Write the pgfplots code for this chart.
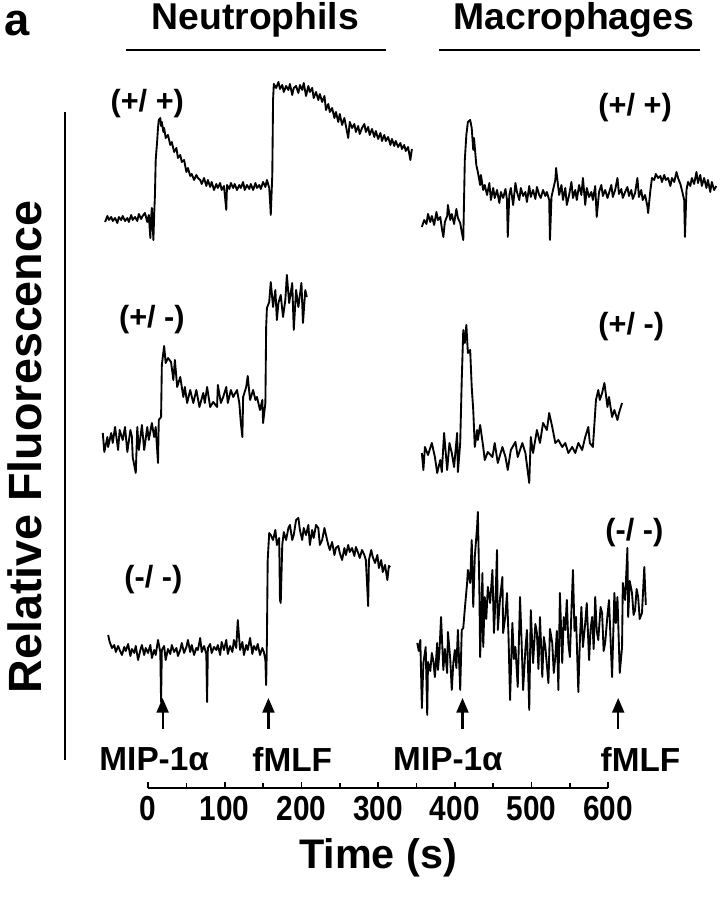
\documentclass[border=0pt]{standalone}
\usepackage{fontspec}
\setmainfont{Liberation Sans}
\newfontfamily\condensed{Liberation Sans}[FakeStretch=0.86]
\usepackage{pgfplots}
\pgfplotsset{compat=1.18}
\usetikzlibrary{arrows.meta}

\newcommand\fs[1]{\bfseries\fontsize{#1}{#1}\selectfont}

\begin{document}
\begin{tikzpicture}[
    tr/.style={black, mark=none, line width=1.4pt, line join=round},
    stim/.style={line width=1.6pt, -{Triangle[length=11pt,width=9pt]}},
]
\begin{axis}[
    at={(0pt,0pt)}, anchor=south west,
    scale only axis, width=540.75pt, height=674.25pt,
    xmin=-193, xmax=747, ymin=0, ymax=899,
    hide axis, clip=false,
]
% Neutrophils (+/+)
\addplot[tr] coordinates {
(-56,677) (-53,683) (-51,679) (-48,682) (-46,678) (-43,681) (-40,676) (-38,682)
(-35,679) (-33,683) (-30,678) (-27,681) (-25,677) (-22,684) (-20,679) (-17,682)
(-14,678) (-12,685) (-9,680) (-7,683) (-4,686) (-1,677) (1,684) (3,661) (4,681)
(5,691) (7,659) (8,684) (9,704) (10,739) (12,759) (13,771) (14,779) (16,781)
(17,773) (18,777) (20,767) (21,771) (23,761) (26,764) (29,754) (31,757) (34,747)
(37,751) (39,741) (42,744) (44,737) (47,739) (50,727) (52,731) (55,723) (57,725)
(60,719) (63,724) (65,721) (68,719) (70,715) (73,721) (76,713) (78,719) (81,712)
(83,717) (86,709) (89,715) (91,711) (94,716) (96,709) (99,713) (102,689) (103,714)
(106,710) (108,716) (111,711) (113,715) (116,709) (119,714) (121,711) (124,717)
(126,709) (129,714) (132,710) (134,715) (137,709) (140,716) (142,711) (145,714)
(147,710) (150,717) (153,712) (155,719) (158,711) (159,699) (160,684) (162,724)
(163,799) (164,815) (167,811) (170,817) (172,810) (175,814) (177,807) (180,813)
(183,809) (185,815) (188,804) (190,811) (193,813) (196,806) (198,814) (201,809)
(203,816) (206,803) (209,813) (211,807) (214,811) (216,801) (219,807) (222,799)
(224,805) (227,797) (230,803) (232,789) (235,795) (237,787) (240,791) (243,781)
(245,787) (248,777) (250,785) (253,774) (256,781) (258,773) (261,761) (263,777)
(266,771) (269,775) (271,767) (274,773) (276,765) (279,771) (282,775) (284,767)
(287,772) (289,764) (292,770) (295,762) (297,768) (300,760) (303,766) (305,758)
(308,764) (310,758) (313,762) (316,754) (318,760) (321,753) (323,758) (326,752)
(329,756) (331,750) (334,754) (336,748) (339,752) (342,739) (344,750)
};
% Macrophages (+/+)
\addplot[tr] coordinates {
(357,672) (360,679) (363,675) (365,685) (368,677) (370,683) (373,674) (376,687)
(378,679) (381,682) (383,671) (385,662) (387,677) (390,683) (391,694) (394,679)
(396,685) (399,675) (402,690) (404,681) (407,676) (409,667) (411,659) (412,699)
(413,739) (415,764) (417,777) (420,779) (422,771) (424,749) (425,761) (428,734)
(430,727) (433,714) (434,724) (437,709) (439,714) (442,704) (445,716) (447,699)
(450,711) (452,701) (455,709) (458,696) (460,707) (463,701) (466,710) (468,699)
(469,662) (471,704) (473,711) (476,694) (479,716) (481,707) (484,699) (486,711)
(489,703) (492,707) (494,697) (497,713) (499,702) (502,709) (505,700) (507,712)
(510,704) (512,701) (515,709) (518,703) (520,707) (523,699) (524,659) (526,702)
(528,709) (531,719) (532,731) (533,724) (536,704) (539,714) (541,699) (544,711)
(546,694) (549,704) (552,717) (554,701) (557,709) (559,699) (562,714) (565,704)
(567,721) (570,694) (572,711) (575,702) (578,707) (580,699) (583,713) (585,682)
(588,707) (591,714) (593,703) (596,709) (599,701) (601,706) (604,714) (606,702)
(609,709) (612,721) (614,705) (617,710) (619,701) (622,707) (625,712) (627,703)
(630,709) (632,700) (635,706) (638,721) (640,702) (643,709) (645,699) (648,704)
(651,693) (652,686) (655,709) (657,721) (660,719) (662,725) (665,721) (668,723)
(670,717) (673,724) (675,719) (678,721) (681,713) (683,721) (686,717) (689,727)
(691,721) (694,715) (696,709) (699,699) (700,662) (702,709) (704,717) (707,713)
(709,721) (712,715) (715,727) (717,716) (720,724) (722,713) (725,721) (728,711)
(730,719) (733,707) (735,717) (738,709) (741,713)
};
% Neutrophils (+/-)
\addplot[tr] coordinates {
(-59,466) (-57,447) (-53,462) (-52,452) (-48,466) (-46,456) (-43,472) (-39,449)
(-37,469) (-33,459) (-30,472) (-27,447) (-23,469) (-21,462) (-20,442) (-16,426)
(-14,472) (-12,449) (-8,474) (-5,449) (-1,472) (1,459) (5,476) (8,462) (10,472)
(13,436) (14,479) (17,482) (18,534) (21,553) (23,536) (26,541) (30,537) (33,519)
(35,539) (38,512) (42,522) (46,502) (48,512) (51,496) (55,509) (59,496) (63,509)
(67,492) (72,506) (74,496) (77,512) (81,492) (85,497) (90,492) (91,514) (95,496)
(98,502) (102,512) (104,496) (108,509) (111,502) (116,509) (119,496) (121,476)
(123,462) (124,502) (128,512) (130,523) (133,499) (137,509) (140,499) (142,502)
(146,489) (149,499) (150,476) (153,496) (154,572) (155,591) (158,597) (160,617)
(163,592) (166,609) (168,579) (170,596) (173,604) (176,582) (179,599) (181,624)
(184,596) (188,616) (190,569) (193,609) (196,592) (200,616) (202,576) (205,609)
(207,602)
};
% Macrophages (+/-)
\addplot[tr] coordinates {
(357,446) (359,429) (361,452) (365,444) (370,456) (374,442) (377,426) (381,439)
(383,427) (386,466) (390,429) (393,456) (396,446) (399,432) (403,466) (404,427)
(407,456) (409,519) (411,569) (413,556) (415,574) (417,546) (420,549) (422,512)
(424,489) (426,452) (429,469) (430,459) (433,474) (437,452) (439,439) (443,447)
(449,442) (452,456) (456,436) (462,452) (466,442) (469,429) (473,449) (479,457)
(482,442) (488,456) (492,446) (497,416) (499,462) (502,446) (507,469) (511,456)
(515,476) (520,469) (523,486) (527,472) (531,456) (535,459) (540,452) (544,456)
(548,446) (553,452) (557,446) (561,456) (566,449) (570,462) (574,472) (576,456)
(580,452) (584,499) (587,509) (589,499) (592,506) (595,516) (599,492) (601,502)
(605,482) (608,489) (612,479) (614,486) (618,496)
};
% Neutrophils (-/-)
\addplot[tr] coordinates {
(-52,264) (-50,257) (-47,251) (-44,254) (-42,247) (-39,253) (-37,249) (-34,244)
(-31,252) (-29,248) (-26,255) (-23,243) (-21,250) (-18,246) (-16,253) (-13,239)
(-10,249) (-8,254) (-5,244) (-3,251) (0,246) (3,254) (5,241) (8,249) (10,244)
(13,259) (16,247) (17,197) (18,249) (21,253) (23,239) (26,250) (29,245) (31,254)
(34,247) (37,251) (39,243) (42,249) (44,256) (47,246) (50,252) (52,259) (55,247)
(57,254) (60,244) (63,251) (65,249) (68,261) (70,247) (73,253) (76,245) (77,197)
(78,251) (81,255) (83,246) (86,252) (89,249) (91,254) (94,244) (96,257) (99,249)
(102,259) (104,245) (107,253) (110,247) (112,259) (115,251) (117,279) (120,249)
(123,257) (125,244) (128,254) (130,249) (133,261) (136,245) (138,253) (141,249)
(143,255) (146,244) (149,251) (151,247) (153,239) (154,214) (155,259) (156,339)
(158,366) (160,364) (163,359) (166,369) (168,354) (171,361) (172,299) (173,296)
(175,354) (177,367) (180,359) (183,371) (185,374) (188,359) (190,364) (193,379)
(196,381) (198,369) (201,359) (203,371) (206,364) (209,374) (211,354) (214,369)
(216,361) (219,374) (222,371) (224,354) (227,359) (230,371) (232,364) (235,354)
(237,349) (240,357) (243,344) (245,351) (248,353) (250,346) (253,339) (256,351)
(258,344) (261,354) (263,347) (266,351) (269,343) (271,352) (274,346) (276,341)
(279,349) (282,344) (284,339) (287,293) (288,339) (291,349) (293,342) (296,336)
(299,344) (301,331) (304,339) (306,327) (309,334) (312,319) (314,333) (316,332)
};
% Macrophages (-/-)
\addplot[tr] coordinates {
(351,256) (353,248) (355,259) (357,191) (359,236) (362,252) (364,184) (365,237)
(368,228) (370,246) (372,238) (374,222) (377,256) (378,229) (380,248) (382,282)
(385,229) (387,250) (390,226) (391,267) (394,240) (396,209) (398,236) (400,249)
(402,231) (404,269) (407,209) (409,269) (411,271) (413,290) (416,316) (417,329)
(420,316) (422,359) (424,292) (426,342) (429,372) (430,387) (432,309) (433,242)
(436,326) (437,252) (439,302) (441,280) (443,312) (446,296) (449,329) (451,266)
(453,300) (455,349) (456,269) (459,301) (462,322) (463,266) (466,284) (468,306)
(470,262) (472,199) (475,276) (477,240) (479,252) (482,212) (485,302) (487,258)
(489,209) (492,250) (494,269) (497,189) (499,289) (502,236) (505,275) (507,266)
(509,230) (511,282) (514,222) (516,262) (518,252) (522,216) (524,270) (527,256)
(529,226) (531,242) (533,268) (535,209) (537,306) (540,236) (542,282) (544,269)
(546,299) (548,256) (550,242) (552,288) (554,329) (556,268) (558,282) (561,207)
(563,258) (565,292) (567,252) (570,276) (572,296) (575,239) (577,270) (579,282)
(581,250) (583,302) (585,268) (587,259) (590,292) (592,286) (594,248) (596,256)
(599,284) (601,299) (603,260) (605,222) (608,306) (610,276) (612,302) (615,226)
(618,252) (619,316) (622,299) (625,351) (626,282) (628,318) (631,306) (633,284)
(635,289) (637,310) (639,302) (641,280) (644,286) (647,332) (649,294)
};

% panel letter, headings and their rules
\node at (axis cs:-171,875) {\fs{34}a};
\node at (axis cs:140,879) {\fs{28}Neutrophils};
\node at (axis cs:555,879) {\fs{28}Macrophages};
\draw[line width=2.2pt] (axis cs:-29,849) -- (axis cs:310,849);
\draw[line width=2.2pt] (axis cs:379,849) -- (axis cs:720,849);

% y description
\draw[line width=1.6pt] (axis cs:-108,787) -- (axis cs:-108,139);
\node[rotate=90] at (axis cs:-160,452) {\fs{35}Relative Fluorescence};

% genotype labels
\node at (axis cs:-1,795) {\fs{23}(+/ +)};
\node at (axis cs:635,791) {\fs{23}(+/ +)};
\node at (axis cs:5,579) {\fs{23}(+/ -)};
\node at (axis cs:630,572) {\fs{23}(+/ -)};
\node at (axis cs:7,319) {\fs{23}(-/ -)};
\node at (axis cs:634,366) {\fs{23}(-/ -)};

% stimulus arrows
\draw[stim] (axis cs:19,170) -- (axis cs:19,201);
\draw[stim] (axis cs:157,170) -- (axis cs:157,201);
\draw[stim] (axis cs:410,170) -- (axis cs:410,201);
\draw[stim] (axis cs:613,170) -- (axis cs:613,201);
\node at (axis cs:8,140) {\fs{25}MIP-1α};
\node at (axis cs:188,140) {\fs{25}fMLF};
\node at (axis cs:391,140) {\fs{25}MIP-1α};
\node at (axis cs:642,140) {\fs{25}fMLF};
\end{axis}

% time scale bar
\begin{axis}[
    at={(111pt,83.25pt)}, anchor=south west,
    scale only axis, width=345.15pt, height=10pt,
    xmin=0, xmax=600, ymin=0, ymax=1,
    axis x line=bottom, axis y line=none,
    axis line style={line width=1.3pt, -},
    xtick={0,100,...,600}, minor xtick={50,150,...,550},
    tick align=inside, major tick length=4.5pt, minor tick length=3.5pt,
    every tick/.style={black, line width=1.2pt},
    /pgf/number format/assume math mode=true,
    xticklabel style={font=\condensed\fs{26}, yshift=-3pt},
    xlabel={Time (s)},
    xlabel style={font=\fs{31}, yshift=-6pt},
]
\addplot[draw=none] coordinates {(0,0) (600,0)};
\end{axis}

\pgfresetboundingbox
\useasboundingbox (0,0) rectangle (540.75pt,674.25pt);
\end{tikzpicture}
\end{document}
